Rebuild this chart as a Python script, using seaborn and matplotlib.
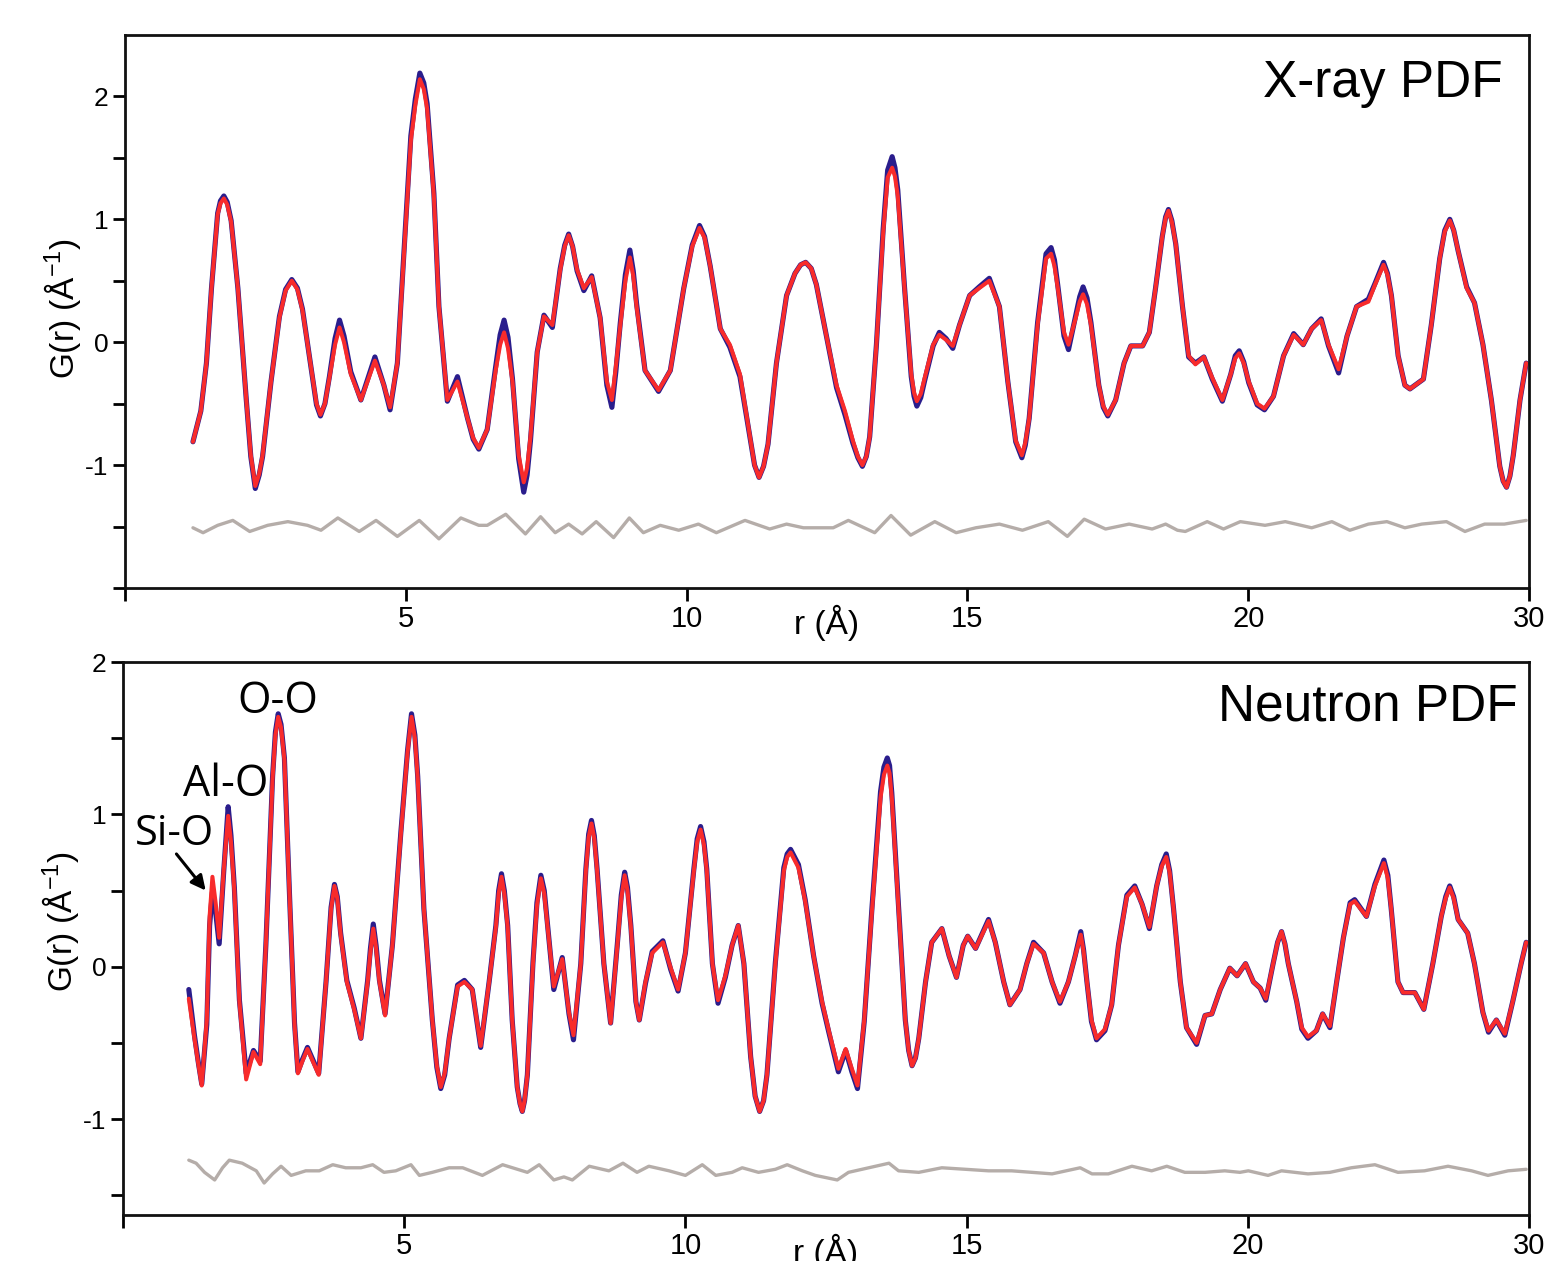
import matplotlib
matplotlib.use("Agg")
import matplotlib.pyplot as plt
import seaborn as sns

# ---------------- X-ray PDF (top panel) ----------------
xray_r = [1.21,1.35,1.45,1.54,1.65,1.70,1.76,1.82,1.89,2.01,
          2.16,2.24,2.32,2.39,2.45,2.60,2.75,2.86,2.97,3.07,
          3.16,3.34,3.41,3.48,3.56,3.64,3.74,3.82,3.90,4.02,
          4.20,4.45,4.61,4.72,4.85,4.97,5.09,5.17,5.25,5.32,
          5.38,5.50,5.59,5.74,5.92,6.10,6.20,6.30,6.45,6.60,
          6.68,6.75,6.82,6.90,7.01,7.10,7.16,7.22,7.34,7.46,
          7.61,7.75,7.83,7.90,7.97,8.05,8.17,8.31,8.46,8.58,
          8.67,8.74,8.82,8.91,8.99,9.05,9.11,9.26,9.50,9.71,
          9.95,10.10,10.23,10.32,10.42,10.60,10.77,10.95,11.13,11.21,
          11.29,11.37,11.45,11.60,11.78,11.93,12.03,12.12,12.22,12.31,
          12.49,12.67,12.82,12.96,13.05,13.13,13.20,13.26,13.38,13.50,
          13.58,13.66,13.71,13.76,13.88,14.00,14.05,14.10,14.17,14.24,
          14.39,14.50,14.62,14.74,14.86,15.04,15.21,15.39,15.57,15.72,
          15.86,15.97,16.03,16.10,16.25,16.40,16.49,16.55,16.61,16.72,
          16.80,16.93,17.00,17.06,17.13,17.20,17.34,17.42,17.50,17.64,
          17.79,17.91,18.12,18.24,18.35,18.47,18.53,18.58,18.64,18.71,
          18.83,18.94,19.06,19.21,19.36,19.54,19.69,19.77,19.84,19.92,
          20.01,20.16,20.29,20.45,20.63,20.81,20.98,21.13,21.30,21.43,
          21.61,21.76,21.93,22.14,22.26,22.41,22.48,22.55,22.67,22.79,
          22.88,23.12,23.26,23.41,23.50,23.59,23.66,23.74,23.89,24.03,
          24.18,24.33,24.48,24.54,24.60,24.66,24.72,24.84,24.95]
xray_fit = [-0.81,-0.56,-0.17,0.44,1.04,1.13,1.17,1.12,0.98,0.44,
            -0.47,-0.92,-1.17,-1.07,-0.92,-0.32,0.20,0.42,0.50,0.43,
            0.26,-0.29,-0.50,-0.59,-0.50,-0.29,-0.02,0.12,0.00,-0.26,
            -0.47,-0.15,-0.35,-0.53,-0.17,0.74,1.64,1.93,2.14,2.06,
            1.90,1.19,0.29,-0.47,-0.32,-0.62,-0.78,-0.86,-0.71,-0.23,
            -0.02,0.08,-0.05,-0.32,-0.92,-1.14,-1.02,-0.77,-0.08,0.21,
            0.14,0.59,0.78,0.87,0.78,0.59,0.44,0.53,0.20,-0.32,
            -0.47,-0.20,0.14,0.50,0.69,0.54,0.29,-0.23,-0.39,-0.23,
            0.44,0.78,0.93,0.85,0.62,0.11,-0.02,-0.26,-0.77,-1.00,
            -1.10,-1.01,-0.83,-0.17,0.38,0.56,0.63,0.65,0.60,0.47,
            0.05,-0.35,-0.56,-0.80,-0.93,-1.00,-0.93,-0.77,-0.02,0.89,
            1.34,1.42,1.35,1.19,0.44,-0.26,-0.41,-0.48,-0.42,-0.29,
            -0.02,0.06,0.02,-0.03,0.14,0.38,0.44,0.50,0.29,-0.32,
            -0.80,-0.92,-0.82,-0.62,0.14,0.68,0.72,0.62,0.44,0.08,
            -0.02,0.20,0.33,0.39,0.31,0.14,-0.35,-0.52,-0.59,-0.47,
            -0.17,-0.03,-0.03,0.08,0.44,0.86,1.01,1.07,0.98,0.80,
            0.29,-0.11,-0.18,-0.12,-0.29,-0.47,-0.26,-0.13,-0.09,-0.17,
            -0.32,-0.50,-0.54,-0.44,-0.11,0.06,-0.02,0.11,0.18,-0.02,
            -0.22,0.05,0.29,0.33,0.47,0.63,0.55,0.38,-0.11,-0.35,
            -0.38,-0.30,0.14,0.68,0.90,0.99,0.91,0.74,0.44,0.32,
            -0.02,-0.47,-1.01,-1.13,-1.18,-1.09,-0.92,-0.47,-0.17]
xray_obs = [-0.81,-0.56,-0.17,0.44,1.05,1.15,1.19,1.14,0.99,0.44,
            -0.47,-0.93,-1.19,-1.08,-0.93,-0.32,0.21,0.43,0.51,0.44,
            0.27,-0.29,-0.51,-0.60,-0.50,-0.28,0.03,0.18,0.05,-0.24,
            -0.47,-0.12,-0.35,-0.55,-0.17,0.76,1.68,1.98,2.19,2.11,
            1.94,1.21,0.29,-0.48,-0.28,-0.62,-0.79,-0.87,-0.71,-0.20,
            0.06,0.18,0.04,-0.30,-0.95,-1.22,-1.08,-0.80,-0.08,0.22,
            0.12,0.60,0.79,0.88,0.78,0.58,0.42,0.54,0.20,-0.35,
            -0.53,-0.24,0.16,0.55,0.75,0.58,0.31,-0.23,-0.40,-0.23,
            0.44,0.79,0.95,0.86,0.62,0.11,-0.04,-0.28,-0.78,-1.00,
            -1.10,-1.01,-0.83,-0.17,0.38,0.56,0.63,0.65,0.60,0.47,
            0.05,-0.37,-0.59,-0.82,-0.94,-1.01,-0.93,-0.77,-0.02,0.92,
            1.40,1.51,1.42,1.24,0.45,-0.28,-0.44,-0.52,-0.45,-0.31,
            -0.03,0.08,0.03,-0.05,0.14,0.38,0.45,0.52,0.29,-0.32,
            -0.81,-0.94,-0.84,-0.62,0.16,0.72,0.77,0.67,0.46,0.05,
            -0.06,0.22,0.37,0.45,0.36,0.16,-0.35,-0.53,-0.60,-0.47,
            -0.17,-0.03,-0.03,0.08,0.44,0.86,1.02,1.08,0.99,0.80,
            0.29,-0.12,-0.17,-0.12,-0.30,-0.48,-0.26,-0.11,-0.07,-0.16,
            -0.33,-0.51,-0.55,-0.44,-0.11,0.07,-0.02,0.11,0.19,-0.03,
            -0.25,0.05,0.29,0.35,0.48,0.65,0.56,0.38,-0.11,-0.35,
            -0.38,-0.30,0.14,0.68,0.91,1.00,0.91,0.74,0.45,0.32,
            -0.02,-0.47,-1.01,-1.13,-1.18,-1.09,-0.92,-0.47,-0.17]
xray_diff_r = [1.21,1.39,1.65,1.92,2.22,2.54,2.90,3.25,3.49,3.79,4.17,4.47,4.85,5.24,5.59,5.98,6.30,
               6.45,6.78,7.13,7.40,7.66,7.90,8.14,8.39,8.70,8.98,9.23,9.53,9.86,10.21,10.53,11.04,11.48,11.78,12.08,
               12.37,12.61,12.88,13.35,13.64,13.99,14.42,14.80,15.15,15.57,15.98,16.44,16.78,17.08,17.46,17.88,18.29,18.53,18.74,
               18.88,19.27,19.56,19.86,20.30,20.66,21.13,21.49,21.81,22.14,22.47,22.79,23.09,23.53,23.86,24.21,24.56,24.95]
xray_diff = [-1.51,-1.55,-1.49,-1.45,-1.54,-1.49,-1.46,-1.49,-1.53,-1.43,-1.54,-1.45,-1.58,-1.45,-1.60,-1.43,-1.49,
             -1.49,-1.40,-1.56,-1.42,-1.55,-1.48,-1.56,-1.46,-1.59,-1.43,-1.55,-1.49,-1.53,-1.48,-1.55,-1.45,-1.52,-1.48,-1.51,
             -1.51,-1.51,-1.45,-1.55,-1.41,-1.57,-1.46,-1.55,-1.51,-1.48,-1.53,-1.46,-1.58,-1.44,-1.52,-1.48,-1.52,-1.48,-1.53,
             -1.54,-1.46,-1.52,-1.46,-1.49,-1.46,-1.51,-1.46,-1.53,-1.48,-1.46,-1.51,-1.48,-1.46,-1.54,-1.48,-1.48,-1.45]

# ---------------- Neutron PDF (bottom panel) ----------------
neut_r = [1.17,1.27,1.34,1.40,1.49,1.54,1.59,1.65,1.71,1.79,
          1.87,1.92,1.98,2.07,2.19,2.32,2.44,2.54,2.66,2.71,
          2.76,2.81,2.87,2.97,3.05,3.11,3.19,3.28,3.48,3.61,
          3.70,3.76,3.81,3.87,3.98,4.11,4.23,4.35,4.40,4.45,
          4.50,4.56,4.66,4.79,4.94,5.06,5.13,5.19,5.24,5.35,
          5.50,5.58,5.65,5.72,5.80,5.95,6.07,6.21,6.36,6.51,
          6.63,6.68,6.73,6.78,6.84,6.92,7.01,7.06,7.10,7.14,
          7.19,7.29,7.36,7.43,7.49,7.55,7.66,7.81,7.93,8.01,
          8.14,8.23,8.28,8.33,8.38,8.43,8.55,8.67,8.79,8.86,
          8.92,8.97,9.03,9.12,9.18,9.29,9.41,9.60,9.74,9.87,
          10.00,10.15,10.21,10.27,10.33,10.38,10.48,10.58,10.71,10.83,
          10.94,11.04,11.16,11.24,11.32,11.39,11.45,11.60,11.75,11.81,
          11.87,12.01,12.13,12.28,12.43,12.55,12.72,12.85,12.96,13.06,
          13.18,13.32,13.47,13.53,13.59,13.63,13.67,13.79,13.91,13.97,
          14.03,14.09,14.15,14.27,14.38,14.56,14.69,14.82,14.94,15.02,
          15.16,15.39,15.51,15.66,15.77,15.95,16.07,16.19,16.37,16.52,
          16.66,16.81,16.93,17.03,17.08,17.14,17.22,17.31,17.46,17.58,
          17.70,17.85,17.99,18.12,18.25,18.38,18.47,18.55,18.61,18.68,
          18.80,18.91,19.09,19.24,19.36,19.51,19.68,19.81,19.96,20.10,
          20.22,20.32,20.45,20.53,20.60,20.66,20.72,20.87,20.96,21.07,
          21.22,21.33,21.46,21.58,21.70,21.82,21.90,22.11,22.26,22.42,
          22.49,22.55,22.67,22.76,22.97,23.13,23.29,23.44,23.52,23.59,
          23.66,23.74,23.91,24.03,24.18,24.28,24.42,24.57,24.71,24.86,
          24.95]
neut_fit = [-0.21,-0.47,-0.64,-0.78,-0.35,0.33,0.59,0.41,0.19,0.63,
            0.99,0.82,0.50,-0.23,-0.74,-0.56,-0.64,0.14,1.24,1.52,
            1.64,1.57,1.36,0.38,-0.38,-0.70,-0.62,-0.54,-0.71,-0.10,
            0.38,0.53,0.45,0.21,-0.10,-0.28,-0.47,-0.10,0.10,0.25,
            0.12,-0.10,-0.32,0.14,0.87,1.41,1.64,1.50,1.24,0.38,
            -0.35,-0.65,-0.79,-0.70,-0.47,-0.13,-0.10,-0.15,-0.52,-0.10,
            0.26,0.48,0.59,0.48,0.26,-0.35,-0.79,-0.90,-0.95,-0.88,
            -0.71,0.02,0.40,0.58,0.48,0.26,-0.13,0.05,-0.30,-0.45,
            0.02,0.63,0.85,0.94,0.84,0.63,0.02,-0.37,0.14,0.45,
            0.60,0.50,0.26,-0.23,-0.35,-0.10,0.09,0.16,-0.01,-0.15,
            0.09,0.63,0.82,0.90,0.80,0.63,0.02,-0.22,-0.06,0.14,
            0.27,0.02,-0.59,-0.85,-0.95,-0.88,-0.71,0.02,0.63,0.72,
            0.75,0.65,0.43,0.07,-0.23,-0.42,-0.67,-0.54,-0.67,-0.78,
            -0.35,0.38,1.11,1.26,1.32,1.27,1.11,0.38,-0.35,-0.55,
            -0.65,-0.60,-0.47,-0.10,0.16,0.25,0.07,-0.07,0.14,0.20,
            0.12,0.30,0.16,-0.10,-0.25,-0.15,0.02,0.15,0.09,-0.10,
            -0.23,-0.10,0.07,0.21,0.10,-0.10,-0.35,-0.47,-0.41,-0.25,
            0.14,0.46,0.52,0.41,0.26,0.53,0.66,0.72,0.62,0.38,
            -0.10,-0.40,-0.50,-0.32,-0.31,-0.15,-0.01,-0.06,0.02,-0.10,
            -0.14,-0.21,0.02,0.16,0.23,0.15,0.02,-0.23,-0.40,-0.46,
            -0.42,-0.31,-0.39,-0.10,0.19,0.41,0.43,0.33,0.53,0.68,
            0.58,0.38,-0.10,-0.17,-0.17,-0.28,0.02,0.33,0.45,0.52,
            0.45,0.31,0.22,0.02,-0.30,-0.42,-0.35,-0.44,-0.23,0.02,
            0.16]
neut_obs = [-0.15,-0.45,-0.63,-0.77,-0.38,0.27,0.49,0.35,0.15,0.62,
            1.05,0.86,0.52,-0.22,-0.70,-0.55,-0.62,0.14,1.25,1.54,
            1.66,1.59,1.37,0.38,-0.37,-0.69,-0.61,-0.53,-0.70,-0.10,
            0.39,0.54,0.46,0.22,-0.09,-0.27,-0.47,-0.09,0.12,0.28,
            0.14,-0.09,-0.31,0.14,0.88,1.42,1.66,1.52,1.25,0.38,
            -0.35,-0.66,-0.80,-0.71,-0.47,-0.12,-0.09,-0.15,-0.53,-0.10,
            0.27,0.50,0.61,0.50,0.27,-0.35,-0.79,-0.90,-0.95,-0.88,
            -0.71,0.03,0.42,0.60,0.50,0.27,-0.15,0.06,-0.31,-0.48,
            0.02,0.64,0.87,0.96,0.86,0.64,0.02,-0.37,0.15,0.47,
            0.62,0.52,0.27,-0.23,-0.35,-0.11,0.10,0.17,-0.02,-0.16,
            0.09,0.64,0.84,0.92,0.82,0.64,0.02,-0.24,-0.07,0.14,
            0.27,0.02,-0.59,-0.85,-0.95,-0.88,-0.71,0.03,0.65,0.74,
            0.77,0.67,0.44,0.07,-0.24,-0.43,-0.69,-0.55,-0.69,-0.80,
            -0.36,0.40,1.15,1.31,1.37,1.32,1.14,0.39,-0.35,-0.55,
            -0.65,-0.60,-0.47,-0.10,0.16,0.25,0.07,-0.07,0.14,0.20,
            0.12,0.31,0.16,-0.10,-0.25,-0.15,0.02,0.16,0.09,-0.10,
            -0.24,-0.10,0.07,0.23,0.11,-0.10,-0.36,-0.48,-0.42,-0.25,
            0.14,0.47,0.53,0.41,0.25,0.53,0.67,0.74,0.63,0.38,
            -0.10,-0.40,-0.51,-0.32,-0.31,-0.15,-0.01,-0.06,0.02,-0.10,
            -0.14,-0.22,0.02,0.16,0.23,0.15,0.02,-0.23,-0.41,-0.47,
            -0.42,-0.31,-0.40,-0.10,0.19,0.42,0.44,0.33,0.54,0.70,
            0.60,0.38,-0.10,-0.17,-0.17,-0.28,0.02,0.33,0.46,0.53,
            0.46,0.31,0.22,0.02,-0.30,-0.43,-0.35,-0.45,-0.23,0.02,
            0.16]
neut_diff_r = [1.17,1.30,1.45,1.63,1.77,1.89,2.12,2.37,2.51,2.66,2.81,2.99,3.25,3.49,3.73,3.96,4.23,4.44,4.64,4.85,5.12,5.27,5.50,5.80,6.04,
               6.39,6.75,7.19,7.40,7.66,7.84,7.99,8.29,8.64,8.89,9.14,9.35,9.71,10.00,10.30,10.54,10.83,11.01,11.30,11.60,11.81,12.08,12.31,
               12.70,12.90,13.26,13.62,13.79,14.15,14.56,14.98,15.39,15.80,16.16,16.52,17.02,17.23,17.52,17.94,18.29,18.56,
               18.88,19.24,19.59,19.86,20.01,20.36,20.60,21.07,21.46,21.84,22.26,22.67,23.14,23.56,23.98,24.27,24.63,24.95]
neut_diff = [-1.27,-1.29,-1.35,-1.40,-1.32,-1.27,-1.29,-1.34,-1.42,-1.36,-1.31,-1.37,-1.34,-1.34,-1.30,-1.32,-1.32,-1.30,-1.35,-1.34,-1.30,-1.37,-1.35,-1.32,-1.32,
             -1.37,-1.30,-1.35,-1.30,-1.40,-1.38,-1.40,-1.31,-1.34,-1.29,-1.35,-1.31,-1.34,-1.37,-1.30,-1.37,-1.35,-1.32,-1.35,-1.33,-1.30,-1.34,-1.37,
             -1.40,-1.35,-1.32,-1.29,-1.34,-1.35,-1.32,-1.33,-1.34,-1.34,-1.35,-1.36,-1.32,-1.36,-1.36,-1.31,-1.34,-1.31,
             -1.35,-1.35,-1.34,-1.35,-1.34,-1.37,-1.34,-1.36,-1.35,-1.32,-1.30,-1.35,-1.34,-1.31,-1.34,-1.37,-1.34,-1.33]

x_ticks = [0, 5, 10, 15, 20, 25]
x_tick_labels = ["", "5", "10", "15", "20", "30"]
xray_y_ticks = [-2, -1.5, -1, -0.5, 0, 0.5, 1, 1.5, 2]
xray_y_labels = ["", "", "-1", "", "0", "", "1", "", "2"]
neut_y_ticks = [-1.5, -1, -0.5, 0, 0.5, 1, 1.5, 2]
neut_y_labels = ["", "-1", "", "0", "", "1", "", "2"]
peak_labels = ["Si-O", "Al-O", "O-O"]

OBS_C = "#2a1d8c"
FIT_C = "#f82b2b"
DIFF_C = "#b5ada9"

sns.set_theme(style="white")
plt.rcParams['font.family'] = ['Liberation Sans', 'DejaVu Sans']
plt.rcParams['mathtext.fontset'] = 'custom'
plt.rcParams['mathtext.rm'] = 'Liberation Sans'
plt.rcParams['mathtext.it'] = 'Liberation Sans:italic'
for k in ['text.color', 'axes.labelcolor', 'xtick.color', 'ytick.color']:
    plt.rcParams[k] = 'black'

W, H = 1561, 1261
fig = plt.figure(figsize=(W / 100, H / 100), dpi=100)
fig.patch.set_facecolor("white")
ax1 = fig.add_axes([125 / W, 1 - 588 / H, (1529 - 125) / W, (588 - 35) / H])
ax2 = fig.add_axes([123 / W, 1 - 1215 / H, (1529 - 123) / W, (1215 - 662) / H])

def draw(ax, r, obs, fit, dr, diff):
    kw = dict(sort=False, estimator=None, solid_joinstyle="round", solid_capstyle="round")
    sns.lineplot(x=r, y=obs, ax=ax, color=OBS_C, linewidth=3.7, **kw)
    sns.lineplot(x=r, y=fit, ax=ax, color=FIT_C, linewidth=2.9, **kw)
    sns.lineplot(x=dr, y=diff, ax=ax, color=DIFF_C, linewidth=2.4, **kw)

draw(ax1, xray_r, xray_obs, xray_fit, xray_diff_r, xray_diff)
draw(ax2, neut_r, neut_obs, neut_fit, neut_diff_r, neut_diff)

panels = [(ax1, (-2.0, 2.5), xray_y_ticks, xray_y_labels, -0.030, 0.505),
          (ax2, (-1.63, 2.0), neut_y_ticks, neut_y_labels, -0.034, 0.53)]
for ax, ylim, yt, yl, xlab_y, ylab_y in panels:
    ax.set_xlim(0, 25)
    ax.set_ylim(*ylim)
    ax.set_xticks(x_ticks)
    ax.set_xticklabels(x_tick_labels)
    ax.set_yticks(yt)
    ax.set_yticklabels(yl)
    ax.tick_params(axis="both", which="major", direction="out", length=9, width=2,
                   color="black", bottom=True, left=True, pad=3)
    ax.tick_params(axis="x", labelsize=21)
    ax.tick_params(axis="y", labelsize=19)
    for s in ax.spines.values():
        s.set_visible(True)
        s.set_color("#111111")
        s.set_linewidth(2.0)
    ax.set_facecolor("white")
    ax.set_xlabel("r (Å)", fontsize=24)
    ax.xaxis.set_label_coords(0.5, xlab_y)
    ax.set_ylabel("G(r) (Å$^{-1}$)", fontsize=24)
    ax.yaxis.set_label_coords(-0.030, ylab_y)

ax1.text(0.981, 0.888, "X-ray PDF", transform=ax1.transAxes, ha="right", va="baseline", fontsize=37)
ax2.text(0.992, 0.895, "Neutron PDF", transform=ax2.transAxes, ha="right", va="baseline", fontsize=37)

lab_font = ["Open Sans", "DejaVu Sans"]
ax2.text(0.92, 0.80, peak_labels[0], ha="center", va="baseline", fontsize=30, family=lab_font)
ax2.text(1.82, 1.12, peak_labels[1], ha="center", va="baseline", fontsize=31, family=lab_font)
ax2.text(2.76, 1.665, peak_labels[2], ha="center", va="baseline", fontsize=31, family=lab_font)
ax2.annotate("", xy=(1.47, 0.50), xytext=(0.95, 0.74),
             arrowprops=dict(arrowstyle="-|>", color="black", lw=2.2, mutation_scale=22,
                             shrinkA=0, shrinkB=0))

fig.savefig("out.png", dpi=100, facecolor="white")
